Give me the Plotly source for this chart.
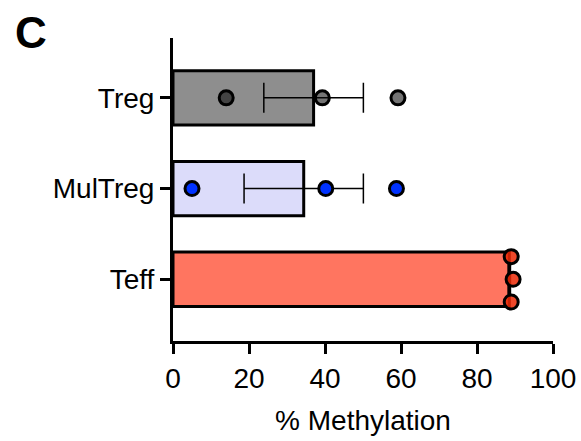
import plotly.graph_objects as go

categories = ["Teff", "MulTreg", "Treg"]
cat_pos = [0, 1, 2]
bar_values = [88.5, 34.4, 37.0]
bar_errors = [0.3, 15.7, 13.1]
bar_fill = ["#ff7560", "#dcdcfa", "#8e8e8e"]

teff_points = [89.0, 89.5, 89.0]
teff_offsets = [0.25, 0.0, -0.25]
multreg_points = [5.0, 40.2, 58.8]
treg_points = [14.0, 39.3, 59.2]

x_ticks = [0, 20, 40, 60, 80, 100]

FONT = "Liberation Sans, Arial, sans-serif"
FS = 28

L, R, T, B = 173, 28, 38, 100
W, H = 581, 441
PW, PH = W - L - R, H - T - B

fig = go.Figure()
fig.add_trace(go.Bar(
    x=bar_values, y=cat_pos, orientation="h", width=0.6,
    marker=dict(color=bar_fill, line=dict(color="black", width=3)),
    error_x=dict(type="data", array=bar_errors, visible=True,
                 color="black", thickness=1.5, width=15),
    showlegend=False, hoverinfo="skip",
))

def add_points(xs, ys, fill):
    fig.add_trace(go.Scatter(
        x=xs, y=ys, mode="markers",
        marker=dict(size=14, color=fill, line=dict(color="black", width=3)),
        showlegend=False, hoverinfo="skip", cliponaxis=False,
    ))

add_points(treg_points, [cat_pos[2]] * 3, "rgba(10,10,10,0.57)")
add_points(multreg_points, [cat_pos[1]] * 3, "rgba(0,50,255,1)")
add_points(teff_points, [cat_pos[0] + o for o in teff_offsets], "rgba(235,40,5,0.85)")

fig.update_layout(
    width=W, height=H,
    margin=dict(l=L, r=R, t=T, b=B, pad=0),
    paper_bgcolor="white", plot_bgcolor="white",
    font=dict(family=FONT, size=FS, color="black"),
    xaxis=dict(
        range=[0, 100], tickvals=x_ticks, ticktext=[str(v) for v in x_ticks],
        showline=True, linecolor="black", linewidth=3,
        ticks="outside", ticklen=10, tickwidth=3, tickcolor="black",
        showgrid=False, zeroline=False, automargin=False,
        title=dict(text="% Methylation", font=dict(size=FS), standoff=18),
        tickfont=dict(size=FS),
    ),
    yaxis=dict(
        range=[-0.68, 2.66], tickvals=cat_pos, ticktext=categories,
        showline=True, linecolor="black", linewidth=3,
        ticks="outside", ticklen=10, tickwidth=3, tickcolor="black",
        showgrid=False, zeroline=False, automargin=False, tickfont=dict(size=FS),
    ),
    annotations=[dict(
        text="<b>C</b>", x=(13 - L) / PW, y=1 + (T - 6) / PH,
        xref="paper", yref="paper",
        xanchor="left", yanchor="top", showarrow=False,
        font=dict(family=FONT, size=44, color="black"),
    )],
)

fig.write_html("out.html")
